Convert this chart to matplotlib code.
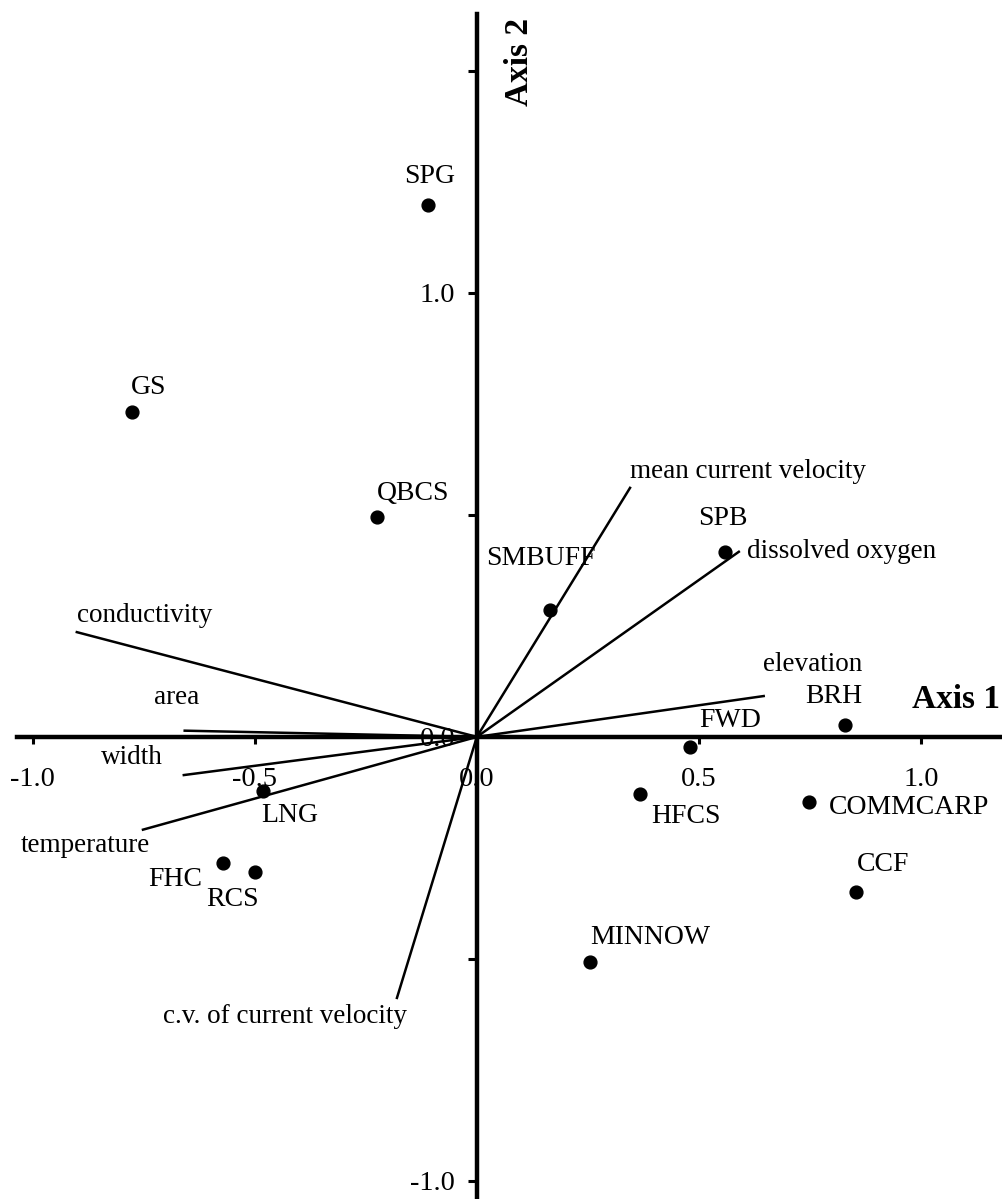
import matplotlib
matplotlib.use("Agg")
import matplotlib.pyplot as plt

plt.rcParams["font.family"] = ["Liberation Serif", "DejaVu Serif"]

# species scores
species = ["SPG", "GS", "QBCS", "SMBUFF", "SPB", "BRH", "FWD", "HFCS",
           "COMMCARP", "CCF", "MINNOW", "LNG", "FHC", "RCS"]
sp_x = [-0.110, -0.777, -0.225, 0.164, 0.559, 0.829, 0.480, 0.367,
        0.748, 0.853, 0.255, -0.482, -0.572, -0.500]
sp_y = [1.198, 0.732, 0.495, 0.286, 0.417, 0.027, -0.023, -0.128,
        -0.146, -0.349, -0.507, -0.122, -0.284, -0.304]

# environmental vectors
env = ["mean current velocity", "dissolved oxygen", "elevation", "conductivity",
       "area", "width", "temperature", "c.v. of current velocity"]
env_x = [0.345, 0.590, 0.646, -0.901, -0.658, -0.660, -0.752, -0.180]
env_y = [0.561, 0.417, 0.092, 0.236, 0.014, -0.086, -0.209, -0.588]

xticks = [-1.0, -0.5, 0.0, 0.5, 1.0]
xticklabels = ["-1.0", "-0.5", "0.0", "0.5", "1.0"]
yticks = [-1.0, -0.5, 0.0, 0.5, 1.0, 1.5]
yticklabels = ["-1.0", "", "0.0", "", "1.0", ""]

# label placement (pixel offsets, alignment)
sp_lab = {
    "SPG": (2, 29, "center"), "GS": (17, 24, "center"), "QBCS": (0, 24, "left"),
    "SMBUFF": (-64, 51, "left"), "SPB": (-2, 33, "center"), "BRH": (-11, 28, "center"),
    "FWD": (40, 27, "center"), "HFCS": (46, -23, "center"), "COMMCARP": (20, -6, "left"),
    "CCF": (1, 27, "left"), "MINNOW": (0, 24, "left"), "LNG": (27, -24, "center"),
    "FHC": (-21, -17, "right"), "RCS": (-22, -28, "center"),
}
env_lab = {
    "mean current velocity": (0, 16, "left"), "dissolved oxygen": (8, 0, "left"),
    "elevation": (49, 32, "center"), "conductivity": (0, 17, "left"),
    "area": (-8, 33, "center"), "width": (-52, 18, "center"),
    "temperature": (-58, -16, "center"), "c.v. of current velocity": (10, -19, "right"),
}

fig = plt.figure(figsize=(10.03, 11.99), dpi=100)
ax = fig.add_axes([0, 0, 1, 1])
ax.set_xlim(-1.074, 1.185)
ax.set_ylim(-1.041, 1.660)

for s in ["top", "right"]:
    ax.spines[s].set_visible(False)
ax.spines["left"].set_position(("data", 0))
ax.spines["bottom"].set_position(("data", 0))
ax.spines["left"].set_bounds(-1.041, 1.628)
ax.spines["bottom"].set_bounds(-1.035, 1.185)
for s in ["left", "bottom"]:
    ax.spines[s].set_linewidth(3.2)

ax.set_xticks(xticks, xticklabels)
ax.set_yticks(yticks, yticklabels)
ax.tick_params(axis="x", direction="out", length=5, width=2.2, pad=17, labelsize=20.5)
ax.tick_params(axis="y", direction="out", length=6.5, width=2.2, pad=9, labelsize=20.5)

for name, ex, ey in zip(env, env_x, env_y):
    ax.plot([0, ex], [0, ey], color="black", lw=1.8, zorder=2)
    dx, dy, ha = env_lab[name]
    ax.annotate(name, (ex, ey), xytext=(dx, dy), textcoords="offset pixels",
                ha=ha, va="center", fontsize=19.5)

ax.scatter(sp_x, sp_y, s=85, color="black", zorder=3)
for name, x, y in zip(species, sp_x, sp_y):
    dx, dy, ha = sp_lab[name]
    ax.annotate(name, (x, y), xytext=(dx, dy), textcoords="offset pixels",
                ha=ha, va="center", fontsize=20)

ax.annotate("Axis 1", xy=(1.0, 0.0), xycoords=ax.get_yaxis_transform(),
            xytext=(-3, 37), textcoords="offset pixels", ha="right",
            va="center", fontsize=24, fontweight="bold")
ax.annotate("Axis 2", xy=(0.0, 1.0), xycoords=ax.get_xaxis_transform(),
            xytext=(43, -18), textcoords="offset pixels", ha="center",
            va="top", rotation=90, fontsize=24, fontweight="bold")

fig.savefig("out.png", dpi=100)
